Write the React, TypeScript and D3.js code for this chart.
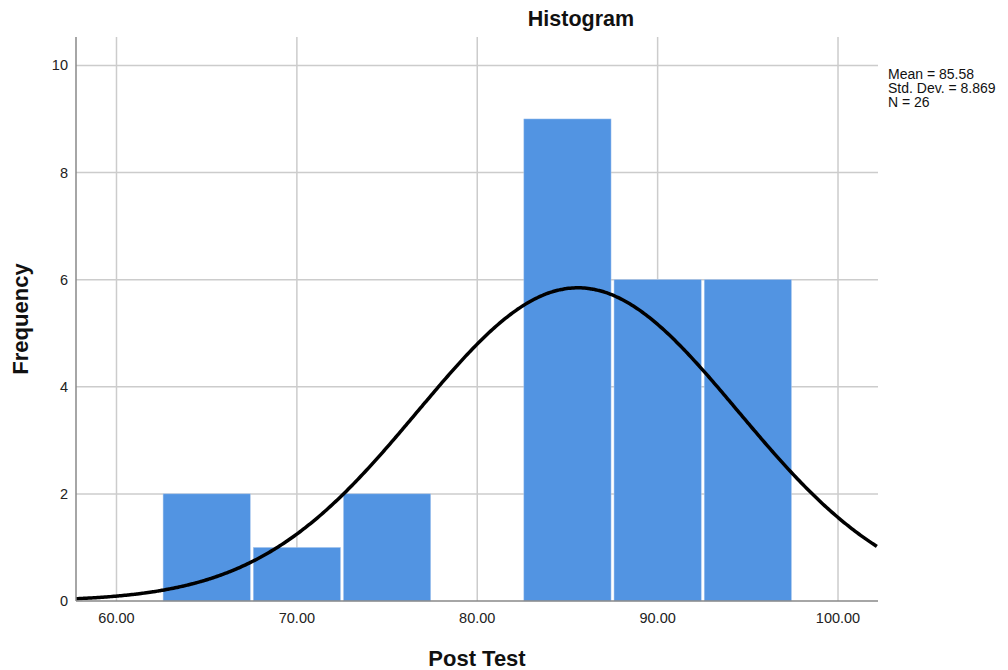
import React from "react";
import * as d3 from "d3";

const binStarts = [62.5, 67.5, 72.5, 77.5, 82.5, 87.5, 92.5];
const binWidth = 5;
const counts = [2, 1, 2, 0, 9, 6, 6];
const xTicks = [60, 70, 80, 90, 100];
const yTicks = [0, 2, 4, 6, 8, 10];
const mean = 85.58;
const sd = 8.869;
const n = 26;
const statsLines = ["Mean = 85.58", "Std. Dev. = 8.869", "N = 26"];

const W = 1008, H = 670;
const left = 76, right = 878, top = 37, bottom = 601;

export default function App() {
  const x = d3.scaleLinear().domain([57.755, 102.217]).range([left, right]);
  const y = d3.scaleLinear().domain([0, 10.53]).range([bottom, top]);
  const xs = d3.range(57.755, 102.22, 0.1);
  const pdf = (v: number) =>
    (n * binWidth) / (sd * Math.sqrt(2 * Math.PI)) * Math.exp(-0.5 * ((v - mean) / sd) ** 2);
  const line = d3.line<number>().x(v => x(v)).y(v => y(pdf(v))).curve(d3.curveBasis);
  const font = "'Liberation Sans', Arial, sans-serif";
  return (
    <svg width={W} height={H} style={{ position: "absolute", left: 0, top: 0 }} fontFamily={font}>
      <rect width={W} height={H} fill="#fff" />
      {xTicks.map(t => (
        <line key={"gx" + t} x1={x(t)} x2={x(t)} y1={top} y2={bottom} stroke="#cccccc" strokeWidth={1.5} />
      ))}
      {yTicks.filter(t => t > 0).map(t => (
        <line key={"gy" + t} x1={left} x2={right} y1={y(t)} y2={y(t)} stroke="#cccccc" strokeWidth={1.5} />
      ))}
      {binStarts.map((b, i) => counts[i] > 0 && (
        <rect key={"b" + i} x={x(b) + 1.5} width={x(b + binWidth) - x(b) - 3} y={y(counts[i])}
          height={y(0) - y(counts[i])} fill="#5294e2" stroke="#a9c8ee" strokeWidth={0.5} />
      ))}
      <path d={line(xs) || ""} fill="none" stroke="#000" strokeWidth={3.5} />
      <line x1={left} x2={left} y1={top} y2={bottom} stroke="#888" strokeWidth={1.5} />
      <line x1={left} x2={right} y1={bottom} y2={bottom} stroke="#888" strokeWidth={1.5} />
      {yTicks.map(t => (
        <text key={"ty" + t} x={left - 8} y={y(t)} dy="0.35em" textAnchor="end" fontSize={14.5} fill="#222">{t}</text>
      ))}
      {xTicks.map(t => (
        <text key={"tx" + t} x={x(t)} y={bottom + 22} textAnchor="middle" fontSize={14.5} fill="#222">{t.toFixed(2)}</text>
      ))}
      <text x={581} y={26} textAnchor="middle" fontSize={21.5} fontWeight="bold" fill="#111">Histogram</text>
      <text x={477} y={666} textAnchor="middle" fontSize={22} fontWeight="bold" fill="#111">Post Test</text>
      <text transform={`translate(28, ${(top + bottom) / 2}) rotate(-90)`} textAnchor="middle" fontSize={22} fontWeight="bold" fill="#111">Frequency</text>
      {statsLines.map((s, i) => (
        <text key={s} x={888} y={79 + i * 14} fontSize={14} fill="#111">{s}</text>
      ))}
    </svg>
  );
}
